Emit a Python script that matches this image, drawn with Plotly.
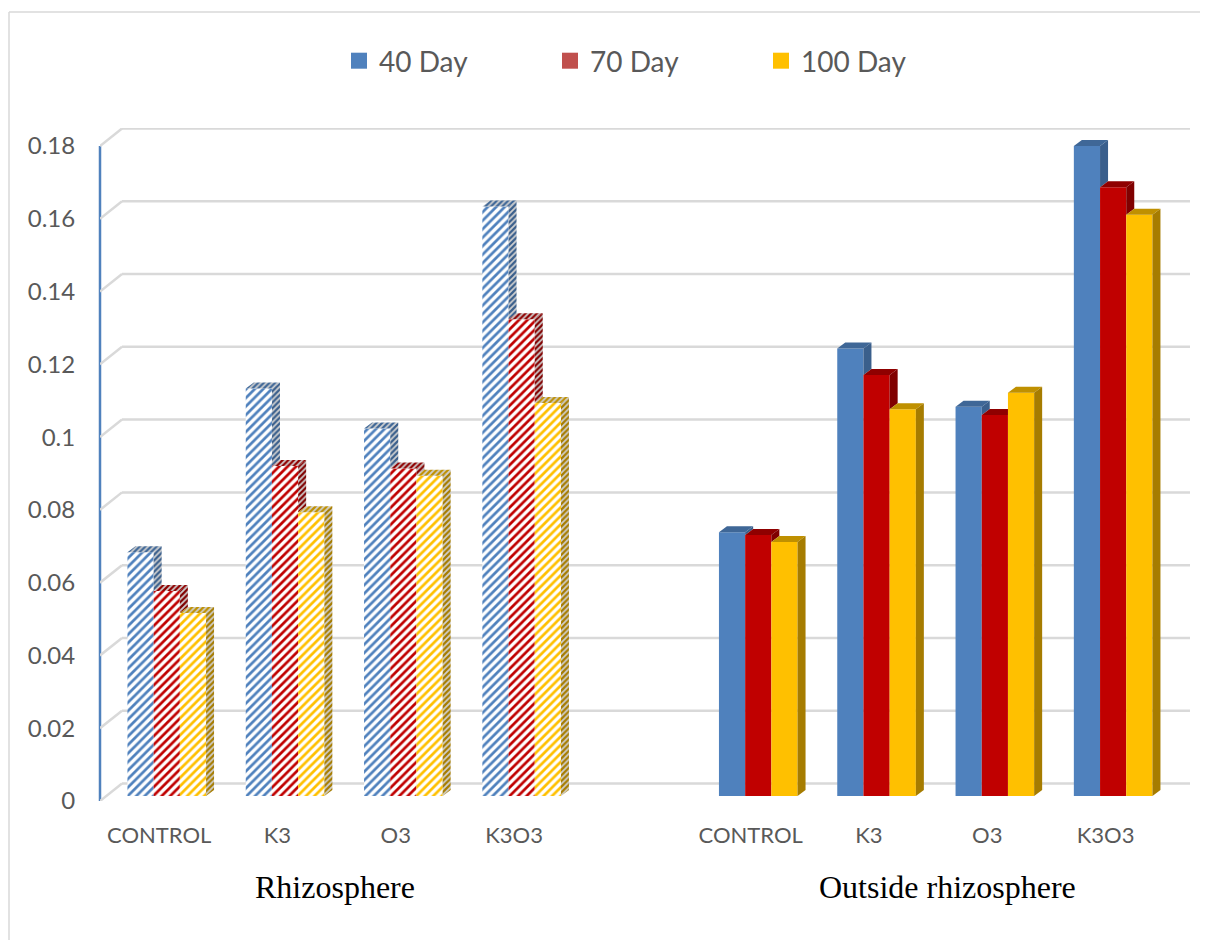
import plotly.graph_objects as go

categories = ["CONTROL", "K3", "O3", "K3O3", "", "CONTROL", "K3", "O3", "K3O3"]
series_names = ["40 Day", "70 Day", "100 Day"]
day40 = [0.067, 0.112, 0.101, 0.162, None, 0.0725, 0.123, 0.107, 0.1786]
day70 = [0.0563, 0.0907, 0.090, 0.131, None, 0.0717, 0.1157, 0.1047, 0.1673]
day100 = [0.0503, 0.078, 0.088, 0.108, None, 0.0698, 0.1063, 0.1108, 0.1597]
y_ticks = [0, 0.02, 0.04, 0.06, 0.08, 0.1, 0.12, 0.14, 0.16, 0.18]
y_labels = ["0", "0.02", "0.04", "0.06", "0.08", "0.1", "0.12", "0.14", "0.16", "0.18"]
group_titles = ["Rhizosphere", "Outside rhizosphere"]

bar_colors = ["#4F81BD", "#C00000", "#FFC000"]
legend_colors = ["#4F81BD", "#C0504D", "#FFC000"]
cap_colors = ["#3F6797", "#8F0000", "#BF9000"]
side_colors = ["#3A5F8C", "#800000", "#A67C00"]
values = [day40, day70, day100]

# pixel geometry of the plot box
PX_X, PX_Y = 118.3, 3639.0
L, R, T, B = 100, 1190, 128, 801
x_min = -0.5
x_max = x_min + (R - L) / PX_X
y_max = (B - T) / PX_Y
bar_w = 26.2 / PX_X
front_dx, front_dy = 7.6 / PX_X, 5 / PX_Y    # bars stand inside the floor
depth_x, depth_y = 8 / PX_X, 6 / PX_Y        # bar depth
wall_x, wall_y = 22 / PX_X, 17.5 / PX_Y      # back wall offset
hatched = [i < 4 for i in range(len(categories))]

fig = go.Figure()

# front bar faces
for j, vals in enumerate(values):
    fig.add_trace(go.Bar(
        x=list(range(len(categories))), y=vals, base=front_dy,
        width=bar_w, offset=front_dx + (j - 1.5) * bar_w,
        showlegend=False, hoverinfo="skip",
        marker=dict(color=bar_colors[j], line_width=0, pattern=dict(
            shape=["/" if h else "" for h in hatched],
            fgcolor=bar_colors[j], bgcolor="white", size=6, solidity=0.45,
            fillmode="replace")),
    ))

# top and side faces, computed from the same values
def faces(j, idx):
    cap_x, cap_y, side_x, side_y = [], [], [], []
    v = values[j][idx] + front_dy
    x0 = idx + front_dx + (j - 1.5) * bar_w
    x1 = x0 + bar_w
    nxt = values[j + 1][idx] + front_dy if j < 2 else front_dy
    if nxt > v + depth_y:
        cap_x += [x0, x1, x1, x0 + depth_x, x0, None]
    else:
        cap_x += [x0, x1, x1 + depth_x, x0 + depth_x, x0, None]
    cap_y += [v, v, v + depth_y, v + depth_y, v, None]
    if v > nxt:
        side_x += [x1, x1 + depth_x, x1 + depth_x, x1, x1, None]
        side_y += [v, v + depth_y, nxt + depth_y, nxt, v, None]
    return cap_x, cap_y, side_x, side_y

for j in range(3):
    for pat in (True, False):
        cx, cy, sx, sy = [], [], [], []
        for idx, h in enumerate(hatched):
            if values[j][idx] is None or h != pat:
                continue
            a, b, c, d = faces(j, idx)
            cx += a; cy += b; sx += c; sy += d
        for xs, ys, col in ((cx, cy, cap_colors[j]), (sx, sy, side_colors[j])):
            kw = dict(fillcolor=col)
            if pat:
                kw = dict(fillcolor="white", fillpattern=dict(
                    shape="/", fgcolor=col, bgcolor="#D0D0D0", size=4,
                    solidity=0.55, fillmode="replace"))
            fig.add_trace(go.Scatter(
                x=xs, y=ys, mode="lines", fill="toself", line_width=0,
                showlegend=False, hoverinfo="skip", **kw))

# legend entries
for name, col in zip(series_names, legend_colors):
    fig.add_trace(go.Scatter(
        x=[None], y=[None], mode="markers", name=name,
        marker=dict(symbol="square", size=18, color=col)))

# walls: back gridlines and floor diagonals, under the bars
shapes = []
grid = "#D9D9D9"
for t in y_ticks:
    shapes.append(dict(type="line", layer="below", xref="x", yref="y",
                       x0=x_min, y0=t, x1=x_min + wall_x, y1=t + wall_y,
                       line=dict(color=grid, width=2.5)))
    shapes.append(dict(type="line", layer="below", xref="x", yref="y",
                       x0=x_min + wall_x, y0=t + wall_y, x1=x_max, y1=t + wall_y,
                       line=dict(color=grid, width=2.5)))
shapes.append(dict(type="line", layer="below", xref="paper", yref="y",
                   x0=0, y0=y_ticks[0], x1=0, y1=y_ticks[-1],
                   line=dict(color="#4F81BD", width=2.5)))
# page frame
W_P, H_P = R - L, B - T
shapes.append(dict(type="line", xref="paper", yref="paper",
                   x0=(9 - L) / W_P, x1=(9 - L) / W_P,
                   y0=(B - 12) / H_P, y1=(B - 940) / H_P,
                   line=dict(color=grid, width=1.5)))
shapes.append(dict(type="line", xref="paper", yref="paper",
                   x0=(9 - L) / W_P, x1=(1200 - L) / W_P,
                   y0=(B - 12) / H_P, y1=(B - 12) / H_P,
                   line=dict(color=grid, width=1.5)))

annotations = [
    dict(text=group_titles[0], x=1.49, xref="x", xanchor="center",
         y=(B - 887) / H_P, yref="paper", yanchor="middle", showarrow=False,
         font=dict(family="Liberation Serif", size=32, color="black")),
    dict(text=group_titles[1], x=6.66, xref="x", xanchor="center",
         y=(B - 887) / H_P, yref="paper", yanchor="middle", showarrow=False,
         font=dict(family="Liberation Serif", size=32, color="black")),
]

OFF = 8  # page body margin
fig.update_layout(
    width=1200, height=932, autosize=False,
    margin=dict(l=L - OFF, r=1200 - (R - OFF), t=T - OFF, b=932 - (B - OFF), pad=0),
    paper_bgcolor="white", plot_bgcolor="white",
    barmode="overlay", shapes=shapes, annotations=annotations,
    legend=dict(orientation="h", x=(339 - L) / W_P, xanchor="left",
                y=(B - 61) / H_P, yanchor="middle", entrywidth=166,
                entrywidthmode="pixels", itemsizing="trace",
                font=dict(family="Lato", size=28, color="#595959")),
    xaxis=dict(range=[x_min, x_max], tickmode="array",
               tickvals=[i for i, c in enumerate(categories) if c],
               ticktext=[c for c in categories if c],
               showgrid=False, zeroline=False, showline=False,
               ticks="outside", ticklen=15, tickcolor="rgba(0,0,0,0)",
               tickfont=dict(family="Lato", size=22, color="#595959")),
    yaxis=dict(range=[0, y_max], tickmode="array", tickvals=y_ticks, ticktext=y_labels,
               showgrid=False, zeroline=False, showline=False,
               ticks="outside", ticklen=19, tickcolor="rgba(0,0,0,0)",
               tickfont=dict(family="Lato", size=24, color="#595959")),
)

fig.write_html("out.html")
